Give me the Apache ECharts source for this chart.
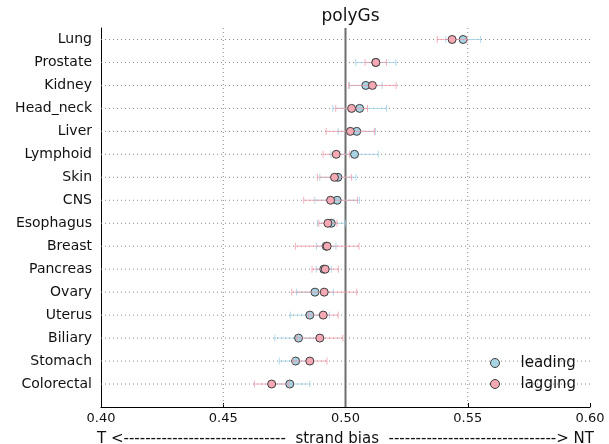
<!DOCTYPE html>
<html><head><meta charset="utf-8">
<script src="https://cdn.jsdelivr.net/npm/echarts@6/dist/echarts.min.js"></script>
<style>html,body{margin:0;padding:0;background:#fff}#c{width:609px;height:444px}</style>
</head><body><div id="c"></div>
<script>
const categories = ['Lung','Prostate','Kidney','Head_neck','Liver','Lymphoid','Skin','CNS','Esophagus','Breast','Pancreas','Ovary','Uterus','Biliary','Stomach','Colorectal'];
const leadingValues = [0.5481,0.5124,0.5083,0.5058,0.5046,0.5037,0.4969,0.4966,0.4942,0.4921,0.4911,0.4875,0.4854,0.4808,0.4796,0.4772];
const leadingErrors = [0.0071,0.0082,0.0067,0.0110,0.0076,0.0097,0.0074,0.0091,0.0057,0.0040,0.0031,0.0075,0.0080,0.0097,0.0067,0.0082];
const laggingValues = [0.5436,0.5124,0.5110,0.5025,0.5020,0.4962,0.4955,0.4939,0.4928,0.4925,0.4917,0.4913,0.4909,0.4895,0.4854,0.4698];
const laggingErrors = [0.0061,0.0044,0.0097,0.0065,0.0099,0.0054,0.0070,0.0110,0.0037,0.0130,0.0054,0.0133,0.0061,0.0094,0.0070,0.0071];
const xTickValues = [0.40,0.45,0.50,0.55,0.60];
const dottedRefs = [0.45,0.55];
const solidRefs = [0.50];

const FONT = 'DejaVu Sans';
const n = categories.length;
const pos = i => n - 1 - i;

const BLUE = '#a7d3e3', PINK = '#f5a9b5';
const BLUE_ERR = 'rgba(150,205,225,0.75)', PINK_ERR = 'rgba(240,150,165,0.75)';

function errData(vals, errs){ return vals.map((v,i)=>[v, pos(i), errs[i]]); }
function ptData(vals){ return vals.map((v,i)=>[v, pos(i)]); }

function errRender(color){
  return function(params, api){
    const v = api.value(0), y = api.value(1), e = api.value(2);
    const a = api.coord([v-e, y]), b = api.coord([v+e, y]);
    const st = {stroke: color, lineWidth: 1};
    return {type:'group', children:[
      {type:'line', shape:{x1:a[0],y1:a[1],x2:b[0],y2:b[1]}, style:st},
      {type:'line', shape:{x1:a[0],y1:a[1]-3.5,x2:a[0],y2:a[1]+3.5}, style:st},
      {type:'line', shape:{x1:b[0],y1:b[1]-3.5,x2:b[0],y2:b[1]+3.5}, style:st}
    ]};
  };
}

const chart = echarts.init(document.getElementById('c'), null, {renderer:'canvas'});
chart.setOption({
  animation:false,
  backgroundColor:'#fff',
  title:{text:'polyGs', left:345.5, textAlign:'center', top:3,
    textStyle:{fontFamily:FONT, fontSize:17, fontWeight:'normal', color:'#111'}},
  grid:{left:101, right:19, top:28, bottom:37, containLabel:false, outerBoundsMode:'none'},
  legend:{
    orient:'vertical', left:485, top:349, itemGap:3, itemWidth:9, itemHeight:9,
    data:['leading','lagging'],
    itemStyle:{borderWidth:1},
    formatter: name => '{t|' + name + '}',
    textStyle:{fontFamily:FONT, fontSize:15, color:'#111', lineHeight:18,
      rich:{t:{fontFamily:FONT, fontSize:15, color:'#111', lineHeight:18, padding:[0,0,0,16]}}}
  },
  xAxis:{
    type:'value', min:0.40, max:0.60, interval:0.05,
    name:'T <------------------------------  strand bias  -------------------------------> NT',
    nameLocation:'middle', nameGap:25,
    nameTextStyle:{fontFamily:FONT, fontSize:15, color:'#111'},
    axisLine:{show:true, onZero:false, lineStyle:{color:'#000', width:1}},
    axisTick:{show:true, inside:true, length:4, lineStyle:{color:'#000'}},
    axisLabel:{fontFamily:FONT, fontSize:13, color:'#111', margin:5,
      formatter: v => xTickValues.some(t=>Math.abs(t-v)<1e-9) ? v.toFixed(2) : ''},
    splitLine:{show:false}
  },
  yAxis:{
    type:'value', min:-1, max:15.5, interval:1,
    axisLine:{show:true, onZero:false, lineStyle:{color:'#000', width:1}},
    axisTick:{show:false},
    axisLabel:{fontFamily:FONT, fontSize:14, color:'#111', margin:9,
      formatter: v => (Number.isInteger(v) && v>=0 && v<n) ? categories[n-1-v] : ''},
    splitLine:{show:false}
  },
  series:[
    {type:'custom', name:'hgrid', silent:true, z:1,
      data: categories.map((c,i)=>[0.5, pos(i)]),
      renderItem:(params, api)=>{
        const cs = params.coordSys; const p = api.coord([api.value(0), api.value(1)]);
        return {type:'line', shape:{x1:cs.x, y1:p[1], x2:cs.x+cs.width, y2:p[1]},
          style:{stroke:'#8a8a8a', lineWidth:1, lineDash:[1,3]}};
      }},
    {type:'custom', name:'vgrid', silent:true, z:1,
      data: dottedRefs.map(v=>[v, 0]),
      renderItem:(params, api)=>{
        const cs = params.coordSys; const p = api.coord([api.value(0), 0]);
        return {type:'line', shape:{x1:p[0], y1:cs.y, x2:p[0], y2:cs.y+cs.height},
          style:{stroke:'#8a8a8a', lineWidth:1, lineDash:[1,3]}};
      }},
    {type:'custom', name:'vref', silent:true, z:2,
      data: solidRefs.map(v=>[v, 0]),
      renderItem:(params, api)=>{
        const cs = params.coordSys; const p = api.coord([api.value(0), 0]);
        return {type:'line', shape:{x1:p[0], y1:cs.y, x2:p[0], y2:cs.y+cs.height},
          style:{stroke:'#6e6e6e', lineWidth:2}};
      }},
    {type:'custom', name:'leadingErr', silent:true, z:3, data: errData(leadingValues, leadingErrors), renderItem: errRender(BLUE_ERR)},
    {type:'scatter', name:'leading', z:4, symbol:'circle', symbolSize:8, data: ptData(leadingValues),
      itemStyle:{color:BLUE, borderColor:'#3d3d3d', borderWidth:1, opacity:1}},
    {type:'custom', name:'laggingErr', silent:true, z:5, data: errData(laggingValues, laggingErrors), renderItem: errRender(PINK_ERR)},
    {type:'scatter', name:'lagging', z:6, symbol:'circle', symbolSize:8, data: ptData(laggingValues),
      itemStyle:{color:PINK, borderColor:'#3d3d3d', borderWidth:1, opacity:1}}
  ]
});
</script></body></html>
